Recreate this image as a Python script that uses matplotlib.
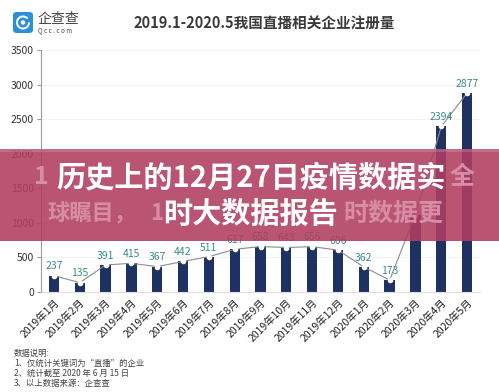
import matplotlib.pyplot as plt
from matplotlib.patches import FancyBboxPatch, Rectangle, Circle, Wedge

plt.rcParams['font.family'] = ['Noto Sans CJK SC', 'DejaVu Sans']

# monthly registrations of live-streaming related companies
months = ['2019年1月', '2019年2月', '2019年3月', '2019年4月', '2019年5月', '2019年6月',
          '2019年7月', '2019年8月', '2019年9月', '2019年10月', '2019年11月', '2019年12月',
          '2020年1月', '2020年2月', '2020年3月', '2020年4月', '2020年5月']
counts = [237, 135, 391, 415, 367, 442, 511, 617, 658, 643, 656, 606, 362, 173, 1120, 2394, 2877]
yticks = [0, 500, 1000, 1500, 2000, 2500, 3000, 3500]

title = '2019.1-2020.5我国直播相关企业注册量'
notes = ['数据说明:', '1、仅统计关键词为“直播”的企业', '2、统计截至 2020 年 6 月 15 日', '3、以上数据来源：企查查']
banner_lines = ['历史上的12月27日疫情数据实', '时大数据报告']
# faded text behind the banner title: (x px, y px, text, size)
ghost_bits = [(34, 177, '1', 18), (450, 177, '全', 18),
              (48, 214, '球瞩目，', 16), (150, 214, '1', 16), (343, 214, '时数据更', 18)]
# label hidden under the banner in the original
hidden_labels = ['2020年3月']

W, H = 499, 392
fig = plt.figure(figsize=(W / 100, H / 100), dpi=100)
fig.patch.set_facecolor('white')

ax = fig.add_axes([41 / W, (H - 292) / H, (480 - 41) / W, (292 - 50) / H])
x = list(range(len(months)))
ax.bar(x, counts, width=0.4, color='#1d3263', zorder=2)
ax.plot(x, counts, color='#8c8c8c', lw=0.8, zorder=3)
ax.plot(x, counts, 'o', ms=3, mfc='white', mec='white', zorder=4)
for xi, m, v in zip(x, months, counts):
    if m in hidden_labels:
        continue
    ax.annotate(str(v), (xi, v), xytext=(0, 3), textcoords='offset points',
                ha='center', va='bottom', fontsize=7.5, color='#3b8c8e', zorder=5)

ax.set_xlim(-0.5, 16.5)
ax.set_ylim(0, 3500)
ax.set_yticks(yticks)
ax.set_yticklabels([str(t) for t in yticks], fontsize=7.5, color='#333333')
ax.set_xticks(x)
ax.set_xticklabels(months, rotation=45, ha='right', va='top', rotation_mode='anchor',
                   fontsize=7.5, color='#222222')
ax.tick_params(axis='x', length=0, pad=4)
ax.tick_params(axis='y', length=3, color='#999999', pad=2)
ax.grid(axis='y', color='#f0f0f0', lw=0.6, zorder=0)
for s in ['top', 'right']:
    ax.spines[s].set_visible(False)
ax.spines['left'].set_color('#9a9a9a')
ax.spines['left'].set_linewidth(0.8)
ax.spines['bottom'].set_color('#dddddd')
ax.spines['bottom'].set_linewidth(0.8)

# title and logo
fig.text(264 / W, 1 - 24 / H, title, ha='center', va='center', fontsize=10.5,
         fontweight='bold', color='#3a3a3a')
fig.add_artist(FancyBboxPatch((13 / W, 1 - 33 / H), 20 / W, 21 / H,
                              boxstyle='round,pad=0,rounding_size=0.008',
                              transform=fig.transFigure, fc='#2d8fd8', ec='none'))
fig.add_artist(Wedge((23, H - 22.5), 7, 40, 360, width=2, transform=None,
                     fc='white', ec='none'))
fig.add_artist(Circle((23, H - 22.5), 2.2, transform=None, fc='white', ec='none'))
fig.text(38 / W, 1 - 19 / H, '企查查', ha='left', va='center', fontsize=10, color='#444444')
fig.text(38 / W, 1 - 30 / H, 'Q c c . c o m', ha='left', va='center', fontsize=4.5,
         color='#444444')

# notes
for i, line in enumerate(notes):
    fig.text(14 / W, 1 - (353 + i * 10.3) / H, line, ha='left', va='center',
             fontsize=6, color='#444444')

# banner overlay
fig.add_artist(Rectangle((0, 1 - 241 / H), 1, 92 / H, transform=fig.transFigure,
                         fc='#b03d60', ec='none', alpha=0.88, zorder=10))
fig.add_artist(Rectangle((0, 1 - 152 / H), 1, 3 / H, transform=fig.transFigure,
                         fc='white', ec='none', alpha=0.15, zorder=10))
for gx, gy, gt, gs in ghost_bits:
    fig.text(gx / W, 1 - gy / H, gt, ha='left', va='center', fontsize=gs,
             fontweight='bold', color='#d88da6', zorder=11)
for yy, bl in zip([177, 214], banner_lines):
    fig.text(251 / W, 1 - yy / H, bl, ha='center', va='center', fontsize=21,
             fontweight='bold', color='white', zorder=12)

fig.savefig('out.png', dpi=100)
